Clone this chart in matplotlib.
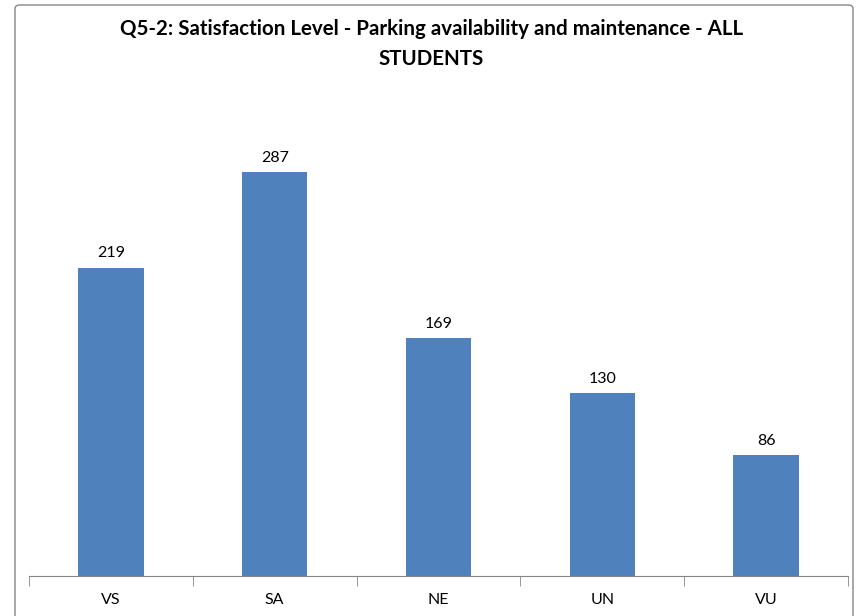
import matplotlib
matplotlib.use("Agg")
import matplotlib.pyplot as plt
from matplotlib.patches import FancyBboxPatch

categories = ["VS", "SA", "NE", "UN", "VU"]
counts = [219, 287, 169, 130, 86]
title = "Q5-2: Satisfaction Level - Parking availability and maintenance - ALL\nSTUDENTS"

plt.rcParams["font.family"] = ["Lato", "DejaVu Sans"]

W, H = 863, 616
fig = plt.figure(figsize=(W / 100, H / 100), dpi=100)

# chart-area frame (runs off the bottom of the image)
frame = FancyBboxPatch((15 / W, -20 / H), 838 / W, (H - 5 + 20) / H,
                       boxstyle="round,pad=0,rounding_size=0.006",
                       transform=fig.transFigure, fill=False,
                       edgecolor="#868686", linewidth=1.0)
fig.patches.append(frame)

ax = fig.add_axes((29 / W, 40 / H, 819 / W, 493 / H))
x = range(len(categories))
bars = ax.bar(x, counts, width=0.4, color="#4F81BD")
for b, v in zip(bars, counts):
    ax.text(b.get_x() + b.get_width() / 2, v + 5, str(v),
            ha="center", va="bottom", fontsize=11.5)

ax.set_xlim(-0.5, len(categories) - 0.5)
ax.set_ylim(0, 350)
ax.set_yticks([])
ax.set_xticks(list(x))
ax.set_xticklabels(categories, fontsize=11.5)
ax.tick_params(axis="x", length=0, pad=12)
ax.set_xticks([i - 0.5 for i in range(len(categories) + 1)], minor=True)
ax.tick_params(axis="x", which="minor", length=7, color="#868686")
for s in ("top", "right", "left"):
    ax.spines[s].set_visible(False)
ax.spines["bottom"].set_color("#868686")

fig.text(0.5, 1 - 44 / H, title, ha="center", va="center",
         fontsize=14.8, fontweight="bold", linespacing=1.6)

fig.savefig("out.png", dpi=100)
